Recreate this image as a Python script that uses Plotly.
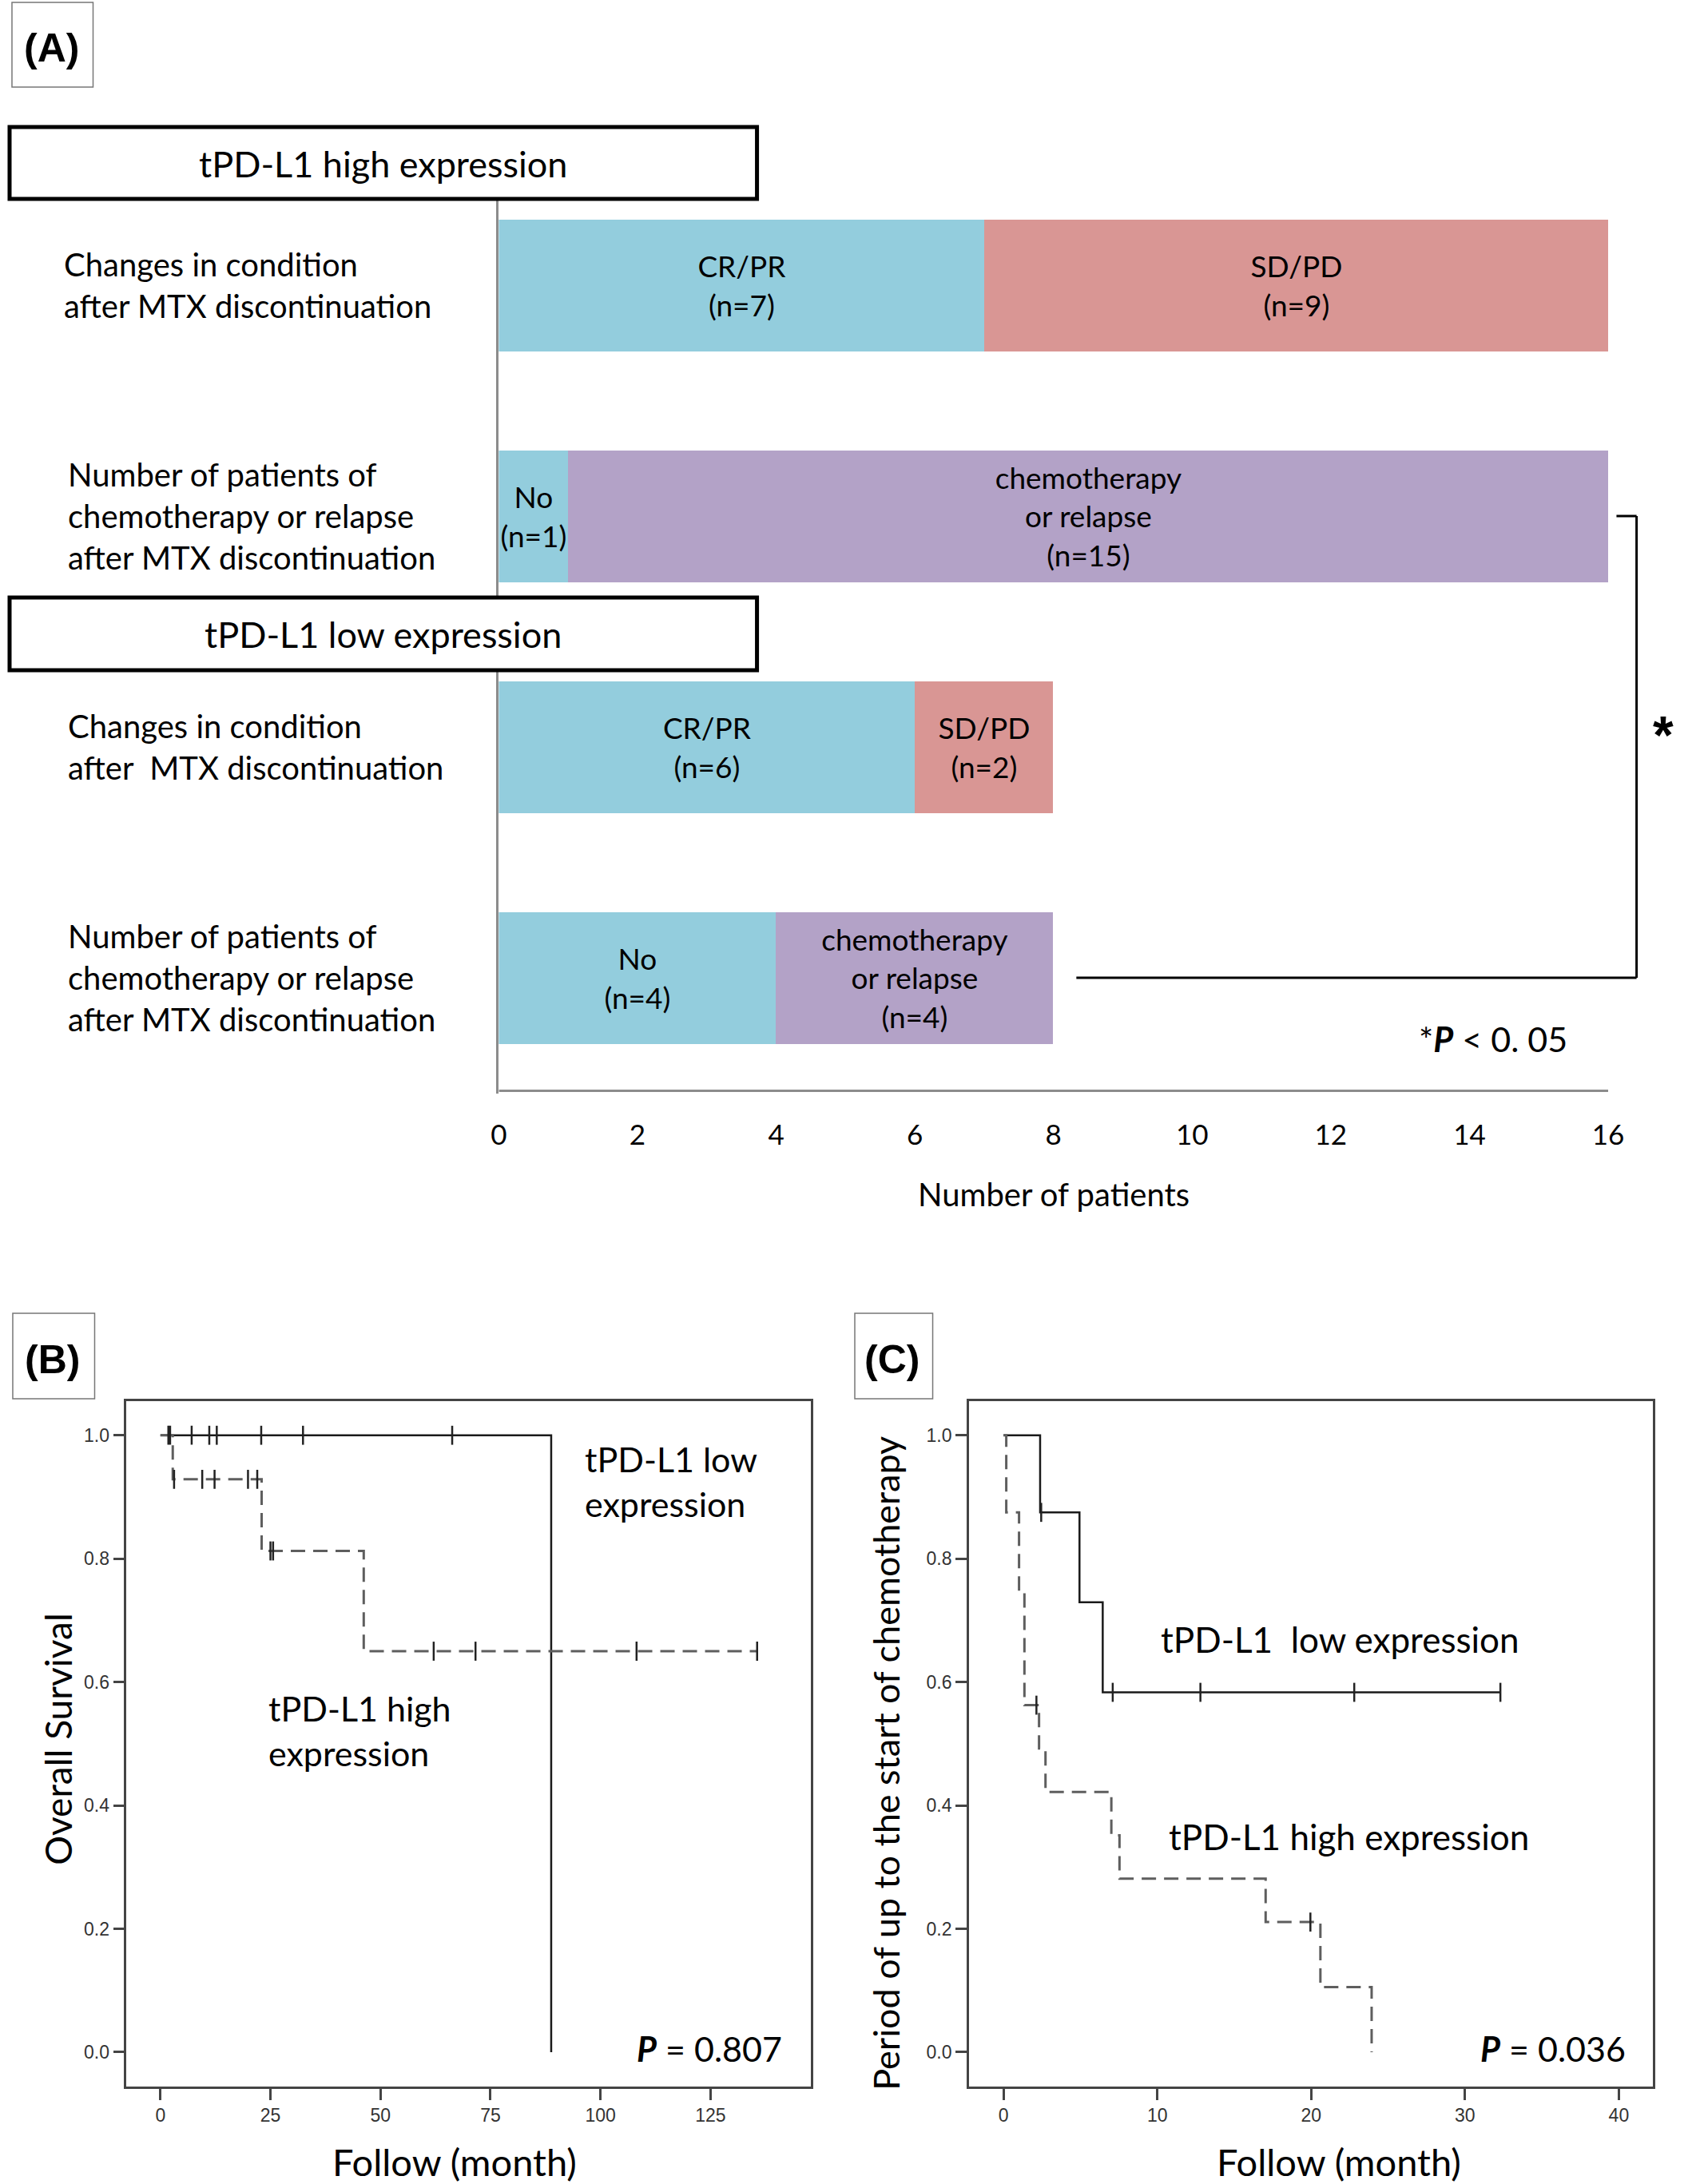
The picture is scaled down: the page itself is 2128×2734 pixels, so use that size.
import plotly.graph_objects as go

# ---------------------------------------------------------------- data
# Panel (A): stacked horizontal bars (number of patients)
row_index = [0, 1, 2, 3]
row_labels = [
    "Changes in condition<br>after MTX discontinuation",
    "Number of patients of<br>chemotherapy or relapse<br>after MTX discontinuation",
    "Changes in condition<br>after  MTX discontinuation",
    "Number of patients of<br>chemotherapy or relapse<br>after MTX discontinuation",
]
seg1_values = [7, 1, 6, 4]
seg1_labels = ["CR/PR<br>(n=7)", "No<br>(n=1)", "CR/PR<br>(n=6)", "No<br>(n=4)"]
seg2_values = [9, 15, 2, 4]
seg2_labels = ["SD/PD<br>(n=9)", "chemotherapy<br>or relapse<br>(n=15)",
               "SD/PD<br>(n=2)", "chemotherapy<br>or relapse<br>(n=4)"]
seg2_kind = ["sdpd", "chemo", "sdpd", "chemo"]
count_ticks = [0, 2, 4, 6, 8, 10, 12, 14, 16]

# Panel (B): overall survival (Kaplan-Meier)
os_low_time = [0, 88.8]
os_low_surv = [1.0, 0.0]
os_low_cens_time = [1.8, 2.2, 7.1, 11.1, 12.8, 22.9, 32.4, 66.3]
os_low_cens_surv = [1.0, 1.0, 1.0, 1.0, 1.0, 1.0, 1.0, 1.0]
os_high_time = [0, 2.8, 23.0, 46.2, 135.6]
os_high_surv = [1.0, 0.9286, 0.8125, 0.65, 0.65]
os_high_cens_time = [3.1, 9.5, 12.3, 19.9, 22.0, 25.0, 25.6, 62.1, 71.6, 108.2, 135.6]
os_high_cens_surv = [0.9286, 0.9286, 0.9286, 0.9286, 0.9286, 0.8125, 0.8125,
                     0.65, 0.65, 0.65, 0.65]
os_ticks = [0, 25, 50, 75, 100, 125]

# Panel (C): period up to start of chemotherapy (Kaplan-Meier)
ch_low_time = [0, 2.38, 4.94, 6.45, 32.3]
ch_low_surv = [1.0, 0.875, 0.7292, 0.5833, 0.5833]
ch_low_cens_time = [2.45, 7.1, 12.8, 22.8, 32.3]
ch_low_cens_surv = [0.875, 0.5833, 0.5833, 0.5833, 0.5833]
ch_high_time = [0, 0.18, 1.01, 1.36, 2.31, 2.73, 7.01, 7.54, 17.04, 20.6, 23.93]
ch_high_surv = [1.0, 0.875, 0.75, 0.5625, 0.4922, 0.4219, 0.3516, 0.2813,
                0.2109, 0.1055, 0.0]
ch_high_cens_time = [2.14, 19.95]
ch_high_cens_surv = [0.5625, 0.2109]
ch_ticks = [0, 10, 20, 30, 40]
surv_ticks = [0.0, 0.2, 0.4, 0.6, 0.8, 1.0]

# ---------------------------------------------------------------- style
W, H = 2128, 2734
FONT = "Lato"
TFONT = "Liberation Sans"
BLUE = "#93CDDD"
PINK = "#D99694"
PURPLE = "#B3A2C7"
kind_color = {"sdpd": PINK, "chemo": PURPLE}
LOW_COLOR = "#1a1a1a"
HIGH_COLOR = "#5e5e5e"
CENS_COLOR = "#222222"
FRAME = "#444444"


def px(xp):
    return xp / W


def py(yp):
    return 1 - yp / H


fig = go.Figure()

# ---------------------------------------------------------------- panel A
bar_common = dict(orientation="h", width=0.574, textposition="inside",
                  insidetextanchor="middle", constraintext="none",
                  textfont=dict(family=FONT, size=37, color="black"),
                  marker_line_width=0, hoverinfo="skip",
                  xaxis="x", yaxis="y")
fig.add_trace(go.Bar(y=row_index, x=seg1_values, text=seg1_labels,
                     marker_color=BLUE, **bar_common))
fig.add_trace(go.Bar(y=row_index, x=seg2_values, text=seg2_labels,
                     marker_color=[kind_color[k] for k in seg2_kind], **bar_common))

# ---------------------------------------------------------------- panel B
fig.add_trace(go.Scatter(x=os_low_time, y=os_low_surv, mode="lines", line_shape="hv",
                         line=dict(color=LOW_COLOR, width=2.5),
                         xaxis="x2", yaxis="y2", hoverinfo="skip"))
fig.add_trace(go.Scatter(x=os_high_time, y=os_high_surv, mode="lines", line_shape="hv",
                         line=dict(color=HIGH_COLOR, width=3, dash="18px,10px"),
                         xaxis="x2", yaxis="y2", hoverinfo="skip"))
fig.add_trace(go.Scatter(x=os_low_cens_time, y=os_low_cens_surv, mode="markers",
                         marker=dict(symbol="line-ns", size=17,
                                     line=dict(color=CENS_COLOR, width=2.5)),
                         xaxis="x2", yaxis="y2", hoverinfo="skip"))
fig.add_trace(go.Scatter(x=os_high_cens_time, y=os_high_cens_surv, mode="markers",
                         marker=dict(symbol="line-ns", size=17,
                                     line=dict(color=CENS_COLOR, width=2.5)),
                         xaxis="x2", yaxis="y2", hoverinfo="skip"))

# ---------------------------------------------------------------- panel C
fig.add_trace(go.Scatter(x=ch_low_time, y=ch_low_surv, mode="lines", line_shape="hv",
                         line=dict(color=LOW_COLOR, width=2.5),
                         xaxis="x3", yaxis="y3", hoverinfo="skip"))
fig.add_trace(go.Scatter(x=ch_high_time, y=ch_high_surv, mode="lines", line_shape="hv",
                         line=dict(color=HIGH_COLOR, width=3, dash="18px,10px"),
                         xaxis="x3", yaxis="y3", hoverinfo="skip"))
fig.add_trace(go.Scatter(x=ch_low_cens_time, y=ch_low_cens_surv, mode="markers",
                         marker=dict(symbol="line-ns", size=17,
                                     line=dict(color=CENS_COLOR, width=2.5)),
                         xaxis="x3", yaxis="y3", hoverinfo="skip"))
fig.add_trace(go.Scatter(x=ch_high_cens_time, y=ch_high_cens_surv, mode="markers",
                         marker=dict(symbol="line-ns", size=17,
                                     line=dict(color=CENS_COLOR, width=2.5)),
                         xaxis="x3", yaxis="y3", hoverinfo="skip"))

# ---------------------------------------------------------------- axes
km_x_common = dict(showgrid=False, zeroline=False, showline=True, mirror=True,
                   linecolor=FRAME, linewidth=2.5, ticks="outside", ticklen=14,
                   tickwidth=3, tickcolor=FRAME,
                   tickfont=dict(family=TFONT, size=23, color="#333333"))
km_y_common = dict(km_x_common, tickvals=surv_ticks, tickformat=".1f",
                   range=[-0.0557, 1.0553], domain=[py(2612), py(1754)])

fig.update_layout(
    width=W, height=H, margin=dict(l=0, r=0, t=0, b=0),
    paper_bgcolor="white", plot_bgcolor="white", showlegend=False,
    barmode="stack", bargap=0,
    uniformtext=dict(minsize=37, mode="show"),
    xaxis=dict(domain=[px(617.3), px(2064.8)], range=[0, 16.6], anchor="y",
               showline=False, showgrid=False, zeroline=False,
               tickvals=count_ticks, ticks="outside", ticklen=21,
               tickcolor="rgba(0,0,0,0)",
               tickfont=dict(family=FONT, size=35, color="black")),
    yaxis=dict(domain=[py(1368.5), py(212.5)], range=[3.5, -0.5], anchor="x",
               showline=True, linecolor="#8c8c8c", linewidth=3,
               showticklabels=False, ticks="", showgrid=False, zeroline=False),
    xaxis2=dict(km_x_common, domain=[px(149), px(1009.7)], range=[-7.72, 147.8],
                tickvals=os_ticks, anchor="y2"),
    yaxis2=dict(km_y_common, anchor="x2"),
    xaxis3=dict(km_x_common, domain=[px(1208.5), px(2068.3)], range=[-2.25, 42.19],
                tickvals=ch_ticks, anchor="y3"),
    yaxis3=dict(km_y_common, anchor="x3"),
)

# ---------------------------------------------------------------- shapes
shapes = []
# panel label boxes
for (x0, y0, x1, y1) in [(5, 3, 107, 109), (6, 1644, 109, 1751), (1065, 1644, 1163, 1751)]:
    shapes.append(dict(type="rect", xref="paper", yref="paper", x0=px(x0), x1=px(x1),
                       y0=py(y1), y1=py(y0), line=dict(color="#777777", width=1.5),
                       fillcolor="rgba(0,0,0,0)", layer="above"))
# group header boxes
for (y0, y1) in [(159, 249), (748, 839)]:
    shapes.append(dict(type="rect", xref="paper", yref="paper", x0=px(2), x1=px(942),
                       y0=py(y1), y1=py(y0), line=dict(color="black", width=5),
                       fillcolor="white", layer="above"))
# bottom axis line of panel A (0 .. 16)
shapes.append(dict(type="line", xref="x", yref="y", x0=0, x1=16, y0=3.49, y1=3.49,
                   line=dict(color="#8c8c8c", width=3)))
# significance bracket between the two "chemotherapy or relapse" rows
BR_TIP, BR_X, BR_LOW_START = 16.12, 16.41, 8.33
shapes.append(dict(type="line", xref="x", yref="y", x0=BR_TIP, x1=BR_X, y0=1, y1=1,
                   line=dict(color="black", width=3)))
shapes.append(dict(type="line", xref="x", yref="y", x0=BR_X, x1=BR_X, y0=1, y1=3,
                   line=dict(color="black", width=3)))
shapes.append(dict(type="line", xref="x", yref="y", x0=BR_LOW_START, x1=BR_X, y0=3, y1=3,
                   line=dict(color="black", width=3)))
fig.update_layout(shapes=shapes)

# ---------------------------------------------------------------- annotations
ann = []


def add_text(text, x, y, xref="paper", yref="paper", size=37, xanchor="center",
             yanchor="middle", align="center", family=FONT, textangle=0, color="black"):
    ann.append(dict(text=text, x=x, y=y, xref=xref, yref=yref, showarrow=False,
                    xanchor=xanchor, yanchor=yanchor, align=align, textangle=textangle,
                    font=dict(family=family, size=size, color=color)))


# panel labels
add_text("<b>(A)</b>", px(55), py(60), size=50, family=TFONT)
add_text("<b>(B)</b>", px(56), py(1702), size=50, family=TFONT)
add_text("<b>(C)</b>", px(1112), py(1702), size=50, family=TFONT)

# headers
add_text("tPD-L1 high expression", px(472), py(205), size=45)
add_text("tPD-L1 low expression", px(472), py(794), size=45)

# row labels
row_label_x = [68, 73, 73, 73]
for lab, yi, xl in zip(row_labels, row_index, row_label_x):
    add_text(lab, px(xl), yi, yref="y", size=40, xanchor="left", align="left")

# axis title of panel A
add_text("Number of patients", 8, py(1495), xref="x", size=40)
# significance
add_text("<b>*</b>", px(2082), py(920), size=66, family=TFONT)
add_text("*<b><i>P</i></b> &lt; 0. 05", px(1963), py(1300), size=43, xanchor="right")

# panel B texts
add_text("tPD-L1 low<br>expression", 96.0, 0.925, xref="x2", yref="y2", size=43,
         xanchor="left", align="left")
add_text("tPD-L1 high<br>expression", 24.2, 0.521, xref="x2", yref="y2", size=43,
         xanchor="left", align="left")
add_text("<b><i>P</i></b> = 0.807", 141.7, 0.006, xref="x2", yref="y2", size=43,
         xanchor="right")
add_text("Follow (month)", 66.9, py(2706), xref="x2", size=47)
add_text("Overall Survival", px(62), py(2177), size=46, textangle=-90)

# panel C texts
add_text("tPD-L1  low expression", 10.1, 0.670, xref="x3", yref="y3", size=44,
         xanchor="left", align="left")
add_text("tPD-L1 high expression", 10.63, 0.349, xref="x3", yref="y3", size=44,
         xanchor="left", align="left")
add_text("<b><i>P</i></b> = 0.036", 40.55, 0.006, xref="x3", yref="y3", size=43,
         xanchor="right")
add_text("Follow (month)", 21.8, py(2706), xref="x3", size=47)
add_text("Period of up to the start of chemotherapy", px(1104), py(2207), size=45,
         textangle=-90)

fig.update_layout(annotations=ann)

fig.write_html("out.html",
               config={"displayModeBar": False},
               post_script="document.body.style.margin='0px';"
                           "document.body.style.overflow='hidden';")
